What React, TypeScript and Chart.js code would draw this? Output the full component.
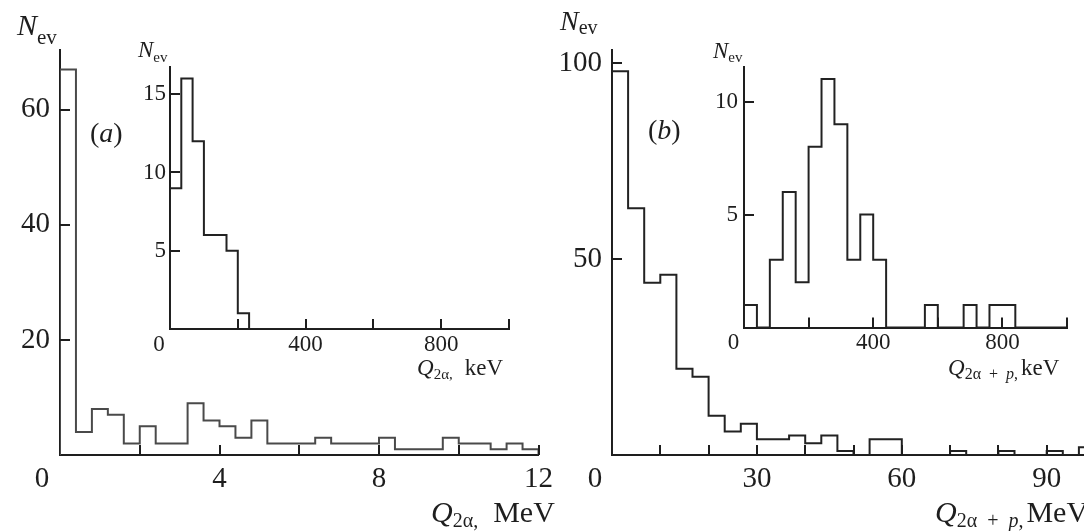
import React, { useEffect, useRef } from "react";
import { Chart, registerables } from "chart.js";

Chart.register(...registerables);

const FONT = '"Liberation Serif", "Times New Roman", serif';
const INK = "#1e1e1e";

// ---------- Panel (a): main histogram, Q_2α in MeV ----------
const mainABinWidth = 0.4;
const mainACounts = [67, 4, 8, 7, 2, 5, 2, 2, 9, 6, 5, 3, 6, 2, 2, 2, 3, 2, 2, 2, 3, 1, 1, 1, 3, 2, 2, 1, 2, 1];
const mainAXTicks = [2, 4, 6, 8, 10, 12];
const mainAXLabels = [4, 8, 12];
const mainAYTicks = [20, 40, 60];

// ---------- Panel (a): inset, Q_2α in keV ----------
const insetABinWidth = 1000 / 30;
const insetACounts = [9, 16, 12, 6, 6, 5, 1, 0, 0, 0, 0, 0, 0, 0, 0, 0, 0, 0, 0, 0, 0, 0, 0, 0, 0, 0, 0, 0, 0, 0];
const insetAXTicks = [200, 400, 600, 800, 1000];
const insetAXLabels = [400, 800];
const insetAYTicks = [5, 10, 15];

// ---------- Panel (b): main histogram, Q_2α+p in MeV ----------
const mainBBinWidth = 100 / 30;
const mainBCounts = [98, 63, 44, 46, 22, 20, 10, 6, 8, 4, 4, 5, 3, 5, 1, 0, 4, 4, 0, 0, 0, 1, 0, 0, 1, 0, 0, 1, 0, 2];
const mainBXTicks = [10, 20, 30, 40, 50, 60, 70, 80, 90, 100];
const mainBXLabels = [30, 60, 90];
const mainBYTicks = [50, 100];

// ---------- Panel (b): inset, Q_2α+p in keV ----------
const insetBBinWidth = 40;
const insetBCounts = [1, 0, 3, 6, 2, 8, 11, 9, 3, 5, 3, 0, 0, 0, 1, 0, 0, 1, 0, 1, 1, 0, 0, 0, 0];
const insetBXTicks = [200, 400, 600, 800, 1000];
const insetBXLabels = [400, 800];
const insetBYTicks = [5, 10];

function buildPoints(binWidth: number, counts: number[]) {
  const pts: { x: number; y: number }[] = [{ x: 0, y: 0 }];
  counts.forEach((c, i) => pts.push({ x: i * binWidth, y: c }));
  pts.push({ x: counts.length * binWidth, y: 0 });
  return pts;
}

type HistSpec = {
  left: number;
  top: number;
  width: number;
  height: number;
  padTop: number;
  padRight: number;
  yWidth: number;
  xHeight: number;
  xMax: number;
  yMax: number;
  binWidth: number;
  counts: number[];
  xTicks: number[];
  xLabels: number[];
  yTicks: number[];
  yLabels: number[];
  fontSize: number;
  xPad: number;
  yPad: number;
  originDx: number;
  lineColor: string;
  tickLen: number;
};

function Hist(p: HistSpec) {
  const ref = useRef<HTMLCanvasElement>(null);
  useEffect(() => {
    const canvas = ref.current;
    if (!canvas) return;
    const decor = {
      id: "axisDecor",
      afterDraw(chart: any) {
        const { ctx, chartArea, scales } = chart;
        const xs = scales.x;
        const ys = scales.y;
        ctx.save();
        ctx.strokeStyle = INK;
        ctx.lineWidth = 2;
        ctx.beginPath();
        xs.ticks.forEach((t: any) => {
          const px = Math.round(xs.getPixelForValue(t.value));
          ctx.moveTo(px, chartArea.bottom);
          ctx.lineTo(px, chartArea.bottom - p.tickLen);
        });
        ys.ticks.forEach((t: any) => {
          const py = Math.round(ys.getPixelForValue(t.value));
          ctx.moveTo(chartArea.left, py);
          ctx.lineTo(chartArea.left + p.tickLen, py);
        });
        ctx.stroke();
        ctx.fillStyle = INK;
        ctx.font = `${p.fontSize}px ${FONT}`;
        ctx.textAlign = "center";
        ctx.textBaseline = "middle";
        ctx.fillText(
          "0",
          xs.getPixelForValue(0) - p.originDx,
          chartArea.bottom + p.xPad + p.fontSize * 0.6
        );
        ctx.restore();
      },
    };
    const chart = new Chart(canvas, {
      type: "line",
      data: {
        datasets: [
          {
            data: buildPoints(p.binWidth, p.counts),
            stepped: "before",
            borderColor: p.lineColor,
            borderWidth: 2,
            pointRadius: 0,
            fill: false,
            tension: 0,
          } as any,
        ],
      },
      options: {
        animation: false,
        responsive: false,
        maintainAspectRatio: false,
        devicePixelRatio: 1,
        events: [],
        layout: { padding: { left: 0, top: p.padTop, right: p.padRight, bottom: 0 } },
        plugins: {
          legend: { display: false },
          tooltip: { enabled: false },
          title: { display: false },
        },
        scales: {
          x: {
            type: "linear",
            min: 0,
            max: p.xMax,
            grid: { display: false, drawTicks: false },
            border: { display: true, color: INK, width: 2 },
            afterBuildTicks: (s: any) => {
              s.ticks = p.xTicks.map((v) => ({ value: v }));
            },
            afterFit: (s: any) => {
              s.height = p.xHeight;
            },
            ticks: {
              autoSkip: false,
              maxRotation: 0,
              minRotation: 0,
              padding: p.xPad,
              color: INK,
              font: { family: FONT, size: p.fontSize },
              callback: (v: any) => (p.xLabels.includes(Number(v)) ? String(v) : ""),
            },
          },
          y: {
            type: "linear",
            min: 0,
            max: p.yMax,
            grid: { display: false, drawTicks: false },
            border: { display: true, color: INK, width: 2 },
            afterBuildTicks: (s: any) => {
              s.ticks = p.yTicks.map((v) => ({ value: v }));
            },
            afterFit: (s: any) => {
              s.width = p.yWidth;
            },
            ticks: {
              autoSkip: false,
              padding: p.yPad,
              color: INK,
              font: { family: FONT, size: p.fontSize },
              callback: (v: any) => (p.yLabels.includes(Number(v)) ? String(v) : ""),
            },
          },
        },
      } as any,
      plugins: [decor],
    });
    return () => chart.destroy();
  }, []);
  return (
    <canvas
      ref={ref}
      width={p.width}
      height={p.height}
      style={{ position: "absolute", left: p.left, top: p.top, width: p.width, height: p.height }}
    />
  );
}

function Txt(props: { left: number; baseline: number; size: number; children: React.ReactNode }) {
  const { left, baseline, size, children } = props;
  return (
    <div
      style={{
        position: "absolute",
        left,
        top: baseline - 0.8375 * size,
        fontSize: size,
        lineHeight: `${size}px`,
        whiteSpace: "nowrap",
        fontFamily: FONT,
        color: INK,
      }}
    >
      {children}
    </div>
  );
}

function Sub(props: { size: number; drop: number; children: React.ReactNode }) {
  return (
    <span style={{ fontSize: props.size, position: "relative", top: props.drop }}>{props.children}</span>
  );
}

export default function App() {
  return (
    <div
      style={{
        position: "absolute",
        left: 0,
        top: 0,
        width: 1084,
        height: 531,
        overflow: "hidden",
        background: "#fff",
      }}
    >
      <Hist
        left={0}
        top={0}
        width={560}
        height={531}
        padTop={50}
        padRight={18}
        yWidth={60}
        xHeight={76}
        xMax={12}
        yMax={70.4}
        binWidth={mainABinWidth}
        counts={mainACounts}
        xTicks={mainAXTicks}
        xLabels={mainAXLabels}
        yTicks={mainAYTicks}
        yLabels={mainAYTicks}
        fontSize={29}
        xPad={7}
        yPad={10}
        originDx={18}
        lineColor="#4a4a4a"
        tickLen={10}
      />
      <Hist
        left={120}
        top={40}
        width={410}
        height={340}
        padTop={27}
        padRight={21}
        yWidth={50}
        xHeight={51}
        xMax={1000}
        yMax={16.74}
        binWidth={insetABinWidth}
        counts={insetACounts}
        xTicks={insetAXTicks}
        xLabels={insetAXLabels}
        yTicks={insetAYTicks}
        yLabels={insetAYTicks}
        fontSize={23}
        xPad={2}
        yPad={4}
        originDx={11}
        lineColor="#222"
        tickLen={10}
      />
      <Hist
        left={560}
        top={0}
        width={560}
        height={531}
        padTop={50}
        padRight={25}
        yWidth={52}
        xHeight={76}
        xMax={100}
        yMax={103.4}
        binWidth={mainBBinWidth}
        counts={mainBCounts}
        xTicks={mainBXTicks}
        xLabels={mainBXLabels}
        yTicks={mainBYTicks}
        yLabels={mainBYTicks}
        fontSize={29}
        xPad={7}
        yPad={10}
        originDx={17}
        lineColor="#222"
        tickLen={10}
      />
      <Hist
        left={690}
        top={40}
        width={410}
        height={340}
        padTop={27}
        padRight={33}
        yWidth={54}
        xHeight={52.5}
        xMax={1000}
        yMax={11.53}
        binWidth={insetBBinWidth}
        counts={insetBCounts}
        xTicks={insetBXTicks}
        xLabels={insetBXLabels}
        yTicks={insetBYTicks}
        yLabels={insetBYTicks}
        fontSize={23}
        xPad={2}
        yPad={6}
        originDx={10.5}
        lineColor="#222"
        tickLen={10}
      />

      {/* Panel (a) texts */}
      <Txt left={17} baseline={35} size={30}>
        <i>N</i>
        <Sub size={21} drop={9}>ev</Sub>
      </Txt>
      <Txt left={90} baseline={142} size={28}>
        (<i>a</i>)
      </Txt>
      <Txt left={138} baseline={57} size={23}>
        <i>N</i>
        <Sub size={15} drop={5}>ev</Sub>
      </Txt>
      <Txt left={417} baseline={375} size={23}>
        <i>Q</i>
        <Sub size={15} drop={4}>2α,</Sub>
        <span style={{ marginLeft: 12 }}>keV</span>
      </Txt>
      <Txt left={431} baseline={522} size={30}>
        <i>Q</i>
        <Sub size={20} drop={5}>2α,</Sub>
        <span style={{ marginLeft: 15 }}>MeV</span>
      </Txt>

      {/* Panel (b) texts */}
      <Txt left={560} baseline={30} size={28}>
        <i>N</i>
        <Sub size={20} drop={4}>ev</Sub>
      </Txt>
      <Txt left={648} baseline={139} size={28}>
        (<i>b</i>)
      </Txt>
      <Txt left={713} baseline={58} size={23}>
        <i>N</i>
        <Sub size={15} drop={4}>ev</Sub>
      </Txt>
      <Txt left={948} baseline={375} size={23}>
        <i>Q</i>
        <Sub size={16} drop={4}>
          2α{"\u2002"}+{"\u2002"}<i>p</i>,
        </Sub>
        <span style={{ marginLeft: 3 }}>keV</span>
      </Txt>
      <Txt left={935} baseline={522} size={30}>
        <i>Q</i>
        <Sub size={20} drop={5}>
          2α{"\u2002"}+{"\u2002"}<i>p</i>,
        </Sub>
        <span style={{ marginLeft: 3 }}>MeV</span>
      </Txt>
    </div>
  );
}
